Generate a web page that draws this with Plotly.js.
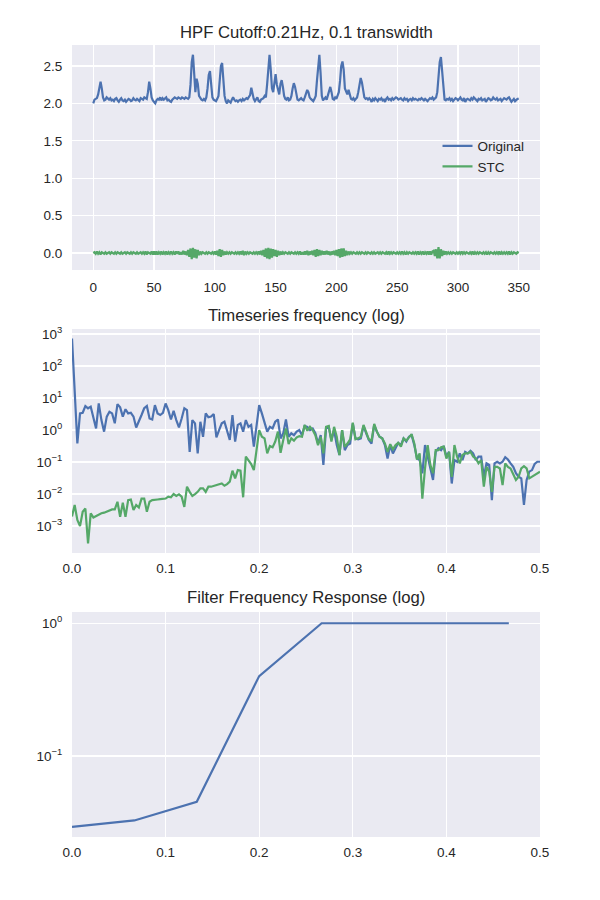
<!DOCTYPE html>
<html>
<head>
<meta charset="utf-8">
<script src="https://cdn.plot.ly/plotly-3.0.1.min.js"></script>
<style>
  body { margin: 0; background: #fff; }
  #plot { width: 600px; height: 900px; }
</style>
</head>
<body>
<div id="plot"></div>
<script>
// top panel: raw signal vs high-pass filtered (one sample per step, starting at 0)
var original = [
  2.00, 2.05, 2.06, 2.07, 2.12, 2.22, 2.29, 2.20, 2.08, 2.04,
  2.05, 2.08, 2.06, 2.05, 2.07, 2.04, 2.05, 2.03, 2.06, 2.07,
  2.04, 2.02, 2.05, 2.07, 2.04, 2.03, 2.05, 2.02, 2.04, 2.06,
  2.05, 2.03, 2.04, 2.07, 2.05, 2.04, 2.06, 2.05, 2.03, 2.07,
  2.06, 2.05, 2.08, 2.07, 2.06, 2.15, 2.29, 2.20, 2.08, 2.04,
  2.02, 2.00, 2.04, 2.06, 2.05, 2.08, 2.04, 2.07, 2.05, 2.06,
  2.08, 2.04, 2.05, 2.03, 2.02, 2.05, 2.06, 2.08, 2.07, 2.06,
  2.08, 2.07, 2.06, 2.08, 2.07, 2.06, 2.08, 2.07, 2.06, 2.08,
  2.25, 2.55, 2.65, 2.40, 2.15, 2.33, 2.26, 2.10, 2.07, 2.05,
  2.04, 2.06, 2.04, 2.08, 2.20, 2.38, 2.43, 2.25, 2.08, 2.05,
  2.04, 2.03, 2.06, 2.10, 2.30, 2.50, 2.54, 2.30, 2.10, 2.03,
  2.00, 2.04, 2.03, 2.01, 2.05, 2.08, 2.05, 2.03, 2.04, 2.02,
  2.04, 2.05, 2.03, 2.06, 2.04, 2.05, 2.07, 2.06, 2.08, 2.11,
  2.21, 2.12, 2.06, 2.03, 2.05, 2.08, 2.03, 2.02, 2.05, 2.06,
  2.07, 2.10, 2.08, 2.25, 2.50, 2.65, 2.45, 2.20, 2.15, 2.30,
  2.39, 2.25, 2.20, 2.12, 2.26, 2.31, 2.22, 2.10, 2.06, 2.05,
  2.08, 2.04, 2.05, 2.10, 2.20, 2.27, 2.22, 2.10, 2.05, 2.04,
  2.06, 2.07, 2.05, 2.04, 2.08, 2.12, 2.18, 2.15, 2.08, 2.06,
  2.05, 2.03, 2.06, 2.10, 2.30, 2.55, 2.65, 2.40, 2.10, 2.04,
  2.06, 2.08, 2.05, 2.12, 2.18, 2.22, 2.15, 2.06, 2.05, 2.08,
  2.06, 2.10, 2.15, 2.30, 2.50, 2.56, 2.45, 2.20, 2.16, 2.12,
  2.18, 2.10, 2.06, 2.05, 2.07, 2.04, 2.06, 2.08, 2.15, 2.25,
  2.34, 2.28, 2.15, 2.08, 2.06, 2.07, 2.05, 2.07, 2.05, 2.02,
  2.06, 2.04, 2.07, 2.05, 2.03, 2.06, 2.05, 2.07, 2.04, 2.05,
  2.02, 2.06, 2.08, 2.05, 2.06, 2.04, 2.07, 2.05, 2.06, 2.08,
  2.07, 2.05, 2.06, 2.07, 2.05, 2.04, 2.07, 2.05, 2.06, 2.03,
  2.05, 2.06, 2.04, 2.07, 2.05, 2.06, 2.05, 2.04, 2.06, 2.05,
  2.07, 2.05, 2.04, 2.06, 2.05, 2.03, 2.05, 2.07, 2.06, 2.08,
  2.05, 2.06, 2.08, 2.15, 2.35, 2.55, 2.62, 2.40, 2.15, 2.05,
  2.04, 2.06, 2.05, 2.07, 2.04, 2.06, 2.03, 2.05, 2.07, 2.06,
  2.04, 2.06, 2.08, 2.05, 2.04, 2.07, 2.02, 2.05, 2.06, 2.05,
  2.04, 2.07, 2.05, 2.08, 2.06, 2.05, 2.03, 2.06, 2.05, 2.07,
  2.04, 2.05, 2.06, 2.02, 2.05, 2.07, 2.06, 2.04, 2.05, 2.08,
  2.06, 2.05, 2.07, 2.04, 2.05, 2.06, 2.03, 2.05, 2.07, 2.06,
  2.05, 2.07, 2.08, 2.05, 2.02, 2.04, 2.06, 2.03, 2.05, 2.06,
  2.06
];
var stc = [
  0.00, 0.01, -0.01, 0.02, -0.01, 0.01, -0.02, 0.01, 0.00, -0.01,
  0.01, -0.01, 0.00, 0.01, -0.01, 0.01, 0.00, -0.01, 0.01, -0.01,
  0.01, 0.00, -0.01, 0.01, -0.01, 0.00, 0.01, -0.01, 0.01, 0.00,
  -0.01, 0.01, -0.01, 0.01, 0.00, -0.01, 0.01, -0.01, 0.00, 0.01,
  -0.01, 0.01, -0.01, 0.02, -0.02, 0.01, 0.00, -0.01, 0.02, -0.02,
  0.02, -0.02, 0.02, -0.02, 0.01, -0.01, 0.02, -0.02, 0.01, -0.01,
  0.02, -0.02, 0.01, -0.01, 0.02, -0.01, 0.01, -0.02, 0.02, -0.01,
  0.02, -0.02, 0.01, -0.02, 0.03, -0.02, 0.02, -0.03, 0.04, -0.05,
  0.06, -0.08, 0.07, -0.06, 0.05, -0.07, 0.04, -0.03, 0.02, -0.01,
  0.01, 0.00, -0.01, 0.01, -0.01, 0.01, 0.00, -0.01, 0.01, -0.01,
  0.02, -0.02, 0.03, -0.04, 0.05, -0.05, 0.04, -0.03, 0.02, -0.02,
  0.01, -0.01, 0.01, -0.01, 0.01, 0.00, -0.01, 0.01, -0.01, 0.01,
  -0.01, 0.02, -0.02, 0.03, -0.03, 0.02, -0.01, 0.01, -0.01, 0.01,
  0.00, -0.01, 0.01, -0.01, 0.01, -0.01, 0.02, -0.02, 0.03, -0.03,
  0.04, -0.05, 0.06, -0.07, 0.07, -0.08, 0.06, -0.06, 0.05, -0.04,
  0.04, -0.05, 0.03, -0.03, 0.02, -0.02, 0.01, -0.01, 0.01, 0.00,
  -0.01, 0.01, -0.01, 0.01, 0.00, -0.01, 0.01, -0.01, 0.01, -0.01,
  0.02, -0.02, 0.01, -0.02, 0.02, -0.02, 0.03, -0.03, 0.02, -0.02,
  0.03, -0.03, 0.04, -0.05, 0.05, -0.04, 0.04, -0.03, 0.03, -0.02,
  0.02, -0.02, 0.03, -0.02, 0.02, -0.03, 0.02, -0.02, 0.03, -0.03,
  0.04, -0.04, 0.05, -0.06, 0.06, -0.05, 0.06, -0.04, 0.03, -0.03,
  0.02, -0.01, 0.01, -0.01, 0.01, 0.00, -0.01, 0.01, -0.01, 0.01,
  -0.01, 0.01, 0.00, -0.01, 0.01, -0.01, 0.01, 0.00, -0.01, 0.01,
  -0.01, 0.01, -0.01, 0.00, 0.01, -0.01, 0.01, -0.01, 0.01, 0.00,
  -0.01, 0.01, -0.02, 0.02, -0.01, 0.01, -0.01, 0.01, 0.00, -0.01,
  0.01, -0.01, 0.01, -0.01, 0.02, -0.01, 0.01, -0.02, 0.01, -0.01,
  0.01, 0.00, -0.01, 0.01, -0.01, 0.01, -0.01, 0.02, -0.02, 0.01,
  -0.01, 0.02, -0.02, 0.01, -0.01, 0.02, -0.02, 0.02, -0.02, 0.02,
  0.03, -0.04, 0.05, -0.07, 0.08, -0.07, 0.05, -0.04, 0.03, -0.02,
  0.02, -0.01, 0.01, -0.01, 0.01, -0.01, 0.01, 0.00, -0.01, 0.01,
  -0.01, 0.01, -0.01, 0.02, -0.01, 0.01, -0.01, 0.01, 0.00, -0.01,
  0.01, -0.01, 0.02, -0.02, 0.01, -0.01, 0.01, -0.01, 0.01, 0.00,
  -0.01, 0.01, -0.01, 0.01, -0.02, 0.01, -0.01, 0.01, 0.00, -0.01,
  0.01, -0.01, 0.01, -0.01, 0.02, -0.02, 0.01, -0.01, 0.01, -0.01,
  0.01, -0.01, 0.02, -0.02, 0.01, -0.01, 0.01, 0.00, -0.01, 0.01,
  0.00
];

var specOrigLog10 = [
  2.86, 1.23, -0.42, 0.52, 0.54, 0.75, 0.68, 0.73, 0.36, 0.05,
  0.83, 0.31, -0.05, 0.42, 0.57, 0.52, 0.21, 0.81, 0.71, 0.42,
  0.65, 0.52, 0.54, 0.42, 0.08, 0.26, 0.47, 0.68, 0.75, 0.36,
  0.33, 0.78, 0.52, 0.47, 0.54, 0.83, 0.62, 0.33, 0.60, 0.31,
  0.08, 0.36, 0.68, 0.62, -0.68, 0.31, 0.21, -0.73, 0.26, -0.21,
  0.52, 0.40, 0.42, 0.50, -0.23, 0.00, 0.21, 0.26, 0.00, -0.31,
  0.47, -0.36, 0.16, 0.21, -0.05, 0.31, 0.10, 0.16, -0.52, 0.10,
  0.78, 0.52, 0.21, -0.05, 0.10, 0.05, 0.26, 0.33, -0.26, -0.10,
  0.33, -0.21, -0.10, -0.16, -0.05, 0.00,
  -0.16, 0.13, 0.10, 0.00, 0.05, -0.10, -0.42, -0.16, -1.09, 0.05,
  0.10, -0.31, 0.00, -0.47, -0.78, 0.00, -0.63, -0.47, -0.42, 0.21,
  -0.26, -0.29, -0.26, 0.13, -0.10, -0.31, -0.42, 0.16, -0.05, -0.21,
  -0.26, -0.47, -0.89, -0.47, -0.73, -0.57, -0.40, -0.47, -0.26, -0.36,
  -0.21, -0.16, -0.47, -0.89, -0.94, -1.35, -0.47, -0.83, -1.20, -1.56,
  -0.68, -0.57, -0.63, -0.50, -0.83, -0.68, -1.67, -0.94, -0.99, -0.73,
  -0.94, -0.68, -0.73, -0.65, -0.73, -0.94, -0.83, -0.83, -1.46, -1.04,
  -1.09, -2.19, -1.04, -0.99, -1.04, -0.99, -0.85, -0.92, -1.04, -1.15,
  -1.35, -1.46, -1.51, -2.34, -1.56, -1.30, -1.25, -1.06, -0.99, -0.99
];
var specStcLog10 = [
  -2.70, -2.34, -2.81, -3.00, -2.55, -2.45, -3.54, -2.60, -2.73, -2.69,
  -2.63, -2.60, -2.58, -2.55, -2.50, -2.48, -2.48, -2.24, -2.71, -2.27,
  -2.71, -2.19, -2.17, -2.50, -2.34, -2.42, -2.14, -2.14, -2.55, -2.24,
  -2.19, -2.19, -2.17, -2.16, -2.14, -2.14, -2.08, -2.10, -2.00, -2.06,
  -2.01, -2.08, -2.40, -1.77, -1.93, -2.06, -2.00, -1.93, -1.82, -1.82,
  -1.93, -1.77, -1.77, -1.74, -1.72, -1.69, -1.67, -1.74, -1.69, -1.61,
  -1.27, -1.51, -1.25, -1.27, -2.10, -0.83, -0.94, -1.06, -1.25, -0.65,
  0.00, -0.21, -0.26, -0.73, -0.50, -0.54, -0.36, -0.05, -0.71, -0.31,
  0.05, -0.44, -0.26, -0.33, -0.23, -0.19,
  -0.21, 0.16, -0.02, 0.10, 0.00, -0.16, -0.47, -0.21, -0.73, 0.10,
  0.13, -0.36, 0.10, -0.21, -0.78, 0.00, -0.52, -0.42, -0.29, 0.23,
  -0.29, -0.26, -0.21, 0.16, -0.05, -0.29, -0.33, 0.19, -0.05, -0.21,
  -0.26, -0.42, -0.68, -0.44, -0.60, -0.47, -0.40, -0.52, -0.26, -0.33,
  -0.23, -0.13, -0.42, -0.92, -0.73, -2.14, -1.20, -0.47, -1.09, -1.35,
  -0.63, -0.63, -0.54, -0.52, -0.89, -0.68, -1.46, -0.47, -0.83, -1.04,
  -0.78, -0.73, -0.73, -0.68, -0.83, -0.89, -1.04, -0.94, -1.77, -1.15,
  -1.30, -1.93, -1.15, -1.15, -1.20, -1.72, -1.04, -1.15, -1.20, -1.38,
  -1.56, -1.46, -1.20, -1.13, -1.20, -1.51, -1.46, -1.41, -1.35, -1.30
];

// bottom panel: filter gain at each design frequency
var respFreq = [0, 0.0667, 0.1333, 0.2, 0.2667, 0.3333, 0.4, 0.4667];
var respGain = [0.0293, 0.0327, 0.0452, 0.40, 1.0, 1.0, 1.01, 1.0];

var decadeVals = [0.001, 0.01, 0.1, 1, 10, 100, 1000];
var decadeText = ["10<sup>\u22123</sup>", "10<sup>\u22122</sup>", "10<sup>\u22121</sup>",
  "10<sup>0</sup>", "10<sup>1</sup>", "10<sup>2</sup>", "10<sup>3</sup>"];

var BLUE = "#4C72B0", GREEN = "#55A868", BG = "#EAEAF2", INK = "#262626";
var FONT = "Liberation Sans, Arial, sans-serif";

function toVal(arr) {
  return arr.map(function (v) { return Math.pow(10, v); });
}

var traces = [
  { y: original, x0: 0, dx: 1, type: "scatter", mode: "lines", name: "Original",
    line: { color: BLUE, width: 2.2 }, xaxis: "x", yaxis: "y" },
  { y: stc, x0: 0, dx: 1, type: "scatter", mode: "lines", name: "STC",
    line: { color: GREEN, width: 2.2 }, xaxis: "x", yaxis: "y" },
  { y: toVal(specOrigLog10), x0: 0, dx: 1 / 350, type: "scatter", mode: "lines",
    line: { color: BLUE, width: 2.2 }, xaxis: "x2", yaxis: "y2", showlegend: false },
  { y: toVal(specStcLog10), x0: 0, dx: 1 / 350, type: "scatter", mode: "lines",
    line: { color: GREEN, width: 2.2 }, xaxis: "x2", yaxis: "y2", showlegend: false },
  { x: respFreq, y: respGain, type: "scatter", mode: "lines",
    line: { color: BLUE, width: 2.2 }, xaxis: "x3", yaxis: "y3", showlegend: false }
];

function ax(extra) {
  var base = {
    showgrid: true, gridcolor: "#ffffff", gridwidth: 1.3,
    zeroline: false, showline: false,
    ticks: "outside", ticklen: 6, tickcolor: "rgba(0,0,0,0)",
    tickfont: { family: FONT, size: 13.5, color: INK },
    fixedrange: true
  };
  for (var k in extra) base[k] = extra[k];
  return base;
}

var layout = {
  width: 600, height: 900,
  margin: { l: 72, r: 60, t: 45, b: 63 },
  paper_bgcolor: "#ffffff", plot_bgcolor: BG,
  font: { family: FONT, color: INK },
  showlegend: true,
  legend: { x: 0.781, y: 0.892, xanchor: "left", yanchor: "top",
    bgcolor: "rgba(0,0,0,0)", font: { family: FONT, size: 13.5, color: INK } },
  xaxis: ax({ domain: [0, 1], anchor: "y", range: [-17.5, 367.5], dtick: 50, tick0: 0, ticklen: 5 }),
  yaxis: ax({ domain: [0.7159, 1], anchor: "x", range: [-0.227, 2.78], dtick: 0.5, tick0: 0, tickformat: ".1f" }),
  xaxis2: ax({ domain: [0, 1], anchor: "y2", range: [0, 0.5], dtick: 0.1, tickformat: ".1f", ticklen: 3 }),
  yaxis2: ax({ domain: [0.3586, 0.6414], anchor: "x2", type: "log", range: [-3.84, 3.156],
    tickmode: "array", tickvals: decadeVals, ticktext: decadeText }),
  xaxis3: ax({ domain: [0, 1], anchor: "y3", range: [0, 0.5], dtick: 0.1, tickformat: ".1f", ticklen: 3 }),
  yaxis3: ax({ domain: [0, 0.2841], anchor: "x3", type: "log", range: [-1.61, 0.085],
    tickmode: "array", tickvals: [0.1, 1], ticktext: [decadeText[2], decadeText[3]] }),
  annotations: [
    { text: "HPF Cutoff:0.21Hz, 0.1 transwidth", x: 0.5, y: 1.0164 },
    { text: "Timeseries frequency (log)", x: 0.5, y: 0.659 },
    { text: "Filter Frequency Response (log)", x: 0.5, y: 0.3018 }
  ].map(function (a) {
    a.xref = "paper"; a.yref = "paper"; a.showarrow = false;
    a.xanchor = "center"; a.yanchor = "middle";
    a.font = { family: FONT, size: 16.7, color: INK };
    return a;
  })
};

Plotly.newPlot("plot", traces, layout, { staticPlot: true, displayModeBar: false });
</script>
</body>
</html>
